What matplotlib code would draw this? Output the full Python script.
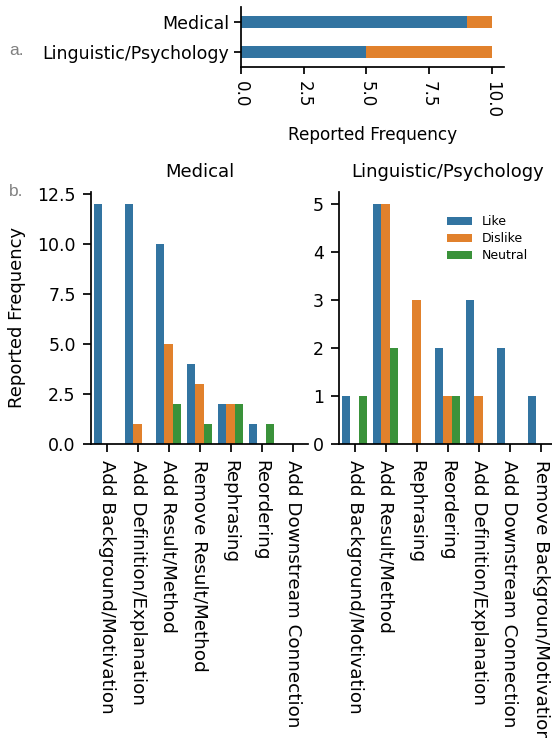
import matplotlib
matplotlib.use("Agg")
import matplotlib.pyplot as plt
import numpy as np

# panel a: overall reaction per field
groups = ["Medical", "Linguistic/Psychology"]
overall_like = [9, 5]
overall_dislike = [1, 5]

# panel b: reaction per edit type
responses = ["Like", "Dislike", "Neutral"]
colors = ["#3274a1", "#e1812c", "#3a923a"]

med_cats = ["Add Background/Motivation", "Add Definition/Explanation",
            "Add Result/Method", "Remove Result/Method", "Rephrasing",
            "Reordering", "Add Downstream Connection"]
med_like = [12, 12, 10, 4, 2, 1, 0]
med_dislike = [0, 1, 5, 3, 2, 0, 0]
med_neutral = [0, 0, 2, 1, 2, 1, 0]

ling_cats = ["Add Background/Motivation", "Add Result/Method", "Rephrasing",
             "Reordering", "Add Definition/Explanation",
             "Add Downstream Connection", "Remove Backgroun/Motivation"]
ling_like = [1, 5, 0, 2, 3, 2, 1]
ling_dislike = [0, 5, 3, 1, 1, 0, 0]
ling_neutral = [1, 2, 0, 1, 0, 0, 0]

plt.rcParams.update({
    "font.family": "DejaVu Sans",
    "axes.linewidth": 1.25,
    "xtick.major.width": 1.25,
    "ytick.major.width": 1.25,
    "xtick.major.size": 5,
    "ytick.major.size": 5,
})

W, H = 552, 738
fig = plt.figure(figsize=(W / 100, H / 100), dpi=100)


def px_axes(left, top, right, bottom):
    return fig.add_axes([left / W, 1 - bottom / H, (right - left) / W, (bottom - top) / H])


# ---- a. stacked horizontal bars
ax = px_axes(241, 7.3, 504.3, 67)
y = np.arange(len(groups))
ax.barh(y, overall_like, height=0.4, color=colors[0])
ax.barh(y, overall_dislike, left=overall_like, height=0.4, color=colors[1])
ax.set_ylim(1.5, -0.5)
ax.set_xlim(0, 10.5)
ax.set_yticks(y, groups, fontsize=12.5)
ax.set_xticks([0, 2.5, 5, 7.5, 10], ["0.0", "2.5", "5.0", "7.5", "10.0"],
              rotation=-90, fontsize=12.1)
ax.tick_params(axis="x", pad=5)
ax.set_xlabel("Reported Frequency", fontsize=12.2, labelpad=6)
ax.spines[["top", "right"]].set_visible(False)

# ---- b. grouped bars per edit type
panels = [
    (px_axes(91, 191.5, 308, 444), "Medical", med_cats,
     [med_like, med_dislike, med_neutral]),
    (px_axes(339, 191.5, 556, 444), "Linguistic/Psychology", ling_cats,
     [ling_like, ling_dislike, ling_neutral]),
]
w = 0.8 / 3
for ax, title, cats, series in panels:
    x = np.arange(len(cats))
    for i, (vals, col, lab) in enumerate(zip(series, colors, responses)):
        ax.bar(x + (i - 1) * w, vals, width=w, color=col, label=lab)
    ax.set_xlim(-0.5, len(cats) - 0.5)
    ax.set_xticks(x, cats, rotation=-90, fontsize=13.2)
    ax.tick_params(axis="x", length=6, pad=5.5)
    ax.tick_params(axis="y", labelsize=12.5, length=6, pad=5)
    ax.set_title(title, fontsize=13, pad=10.5)
    ax.spines[["top", "right"]].set_visible(False)

ax_med, ax_ling = panels[0][0], panels[1][0]
ax_med.set_ylim(0, 12.6)
ax_med.set_yticks([0, 2.5, 5, 7.5, 10, 12.5],
                  ["0.0", "2.5", "5.0", "7.5", "10.0", "12.5"])
ax_med.set_ylabel("Reported Frequency", fontsize=13, labelpad=8)
ax_ling.set_ylim(0, 5.25)
ax_ling.set_yticks(range(6))
ax_ling.legend(loc="upper left", bbox_to_anchor=(0.496, 0.905), frameon=False,
               fontsize=9, borderpad=0, borderaxespad=0, labelspacing=0.32)

# panel letters
fig.text(9 / W, 1 - 55 / H, "a.", color="#808080", fontsize=12.5,
         family="Liberation Sans")
fig.text(9 / W, 1 - 196 / H, "b.", color="#808080", fontsize=12.5,
         family="Liberation Sans")

fig.savefig("out.png", dpi=100)
